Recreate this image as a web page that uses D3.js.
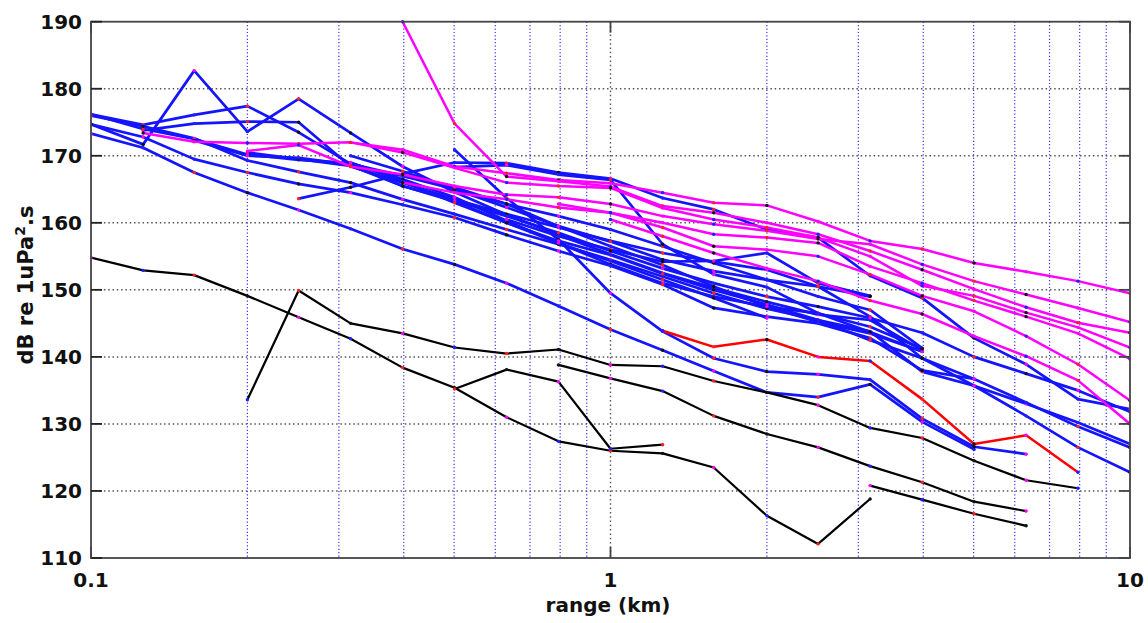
<!DOCTYPE html>
<html>
<head>
<meta charset="utf-8">
<script src="https://cdn.jsdelivr.net/npm/d3@7"></script>
<style>
  body { margin: 0; background: #fff; }
  text { font-family: "DejaVu Sans", sans-serif; font-weight: bold; fill: #111; }
</style>
</head>
<body>
<script>
const width = 1148
const height = 623
const plot = { left: 91, right: 1130, top: 21.7, bottom: 558 }

// third-octave ranges (km) at which the levels were measured
const ranges = [0.1, 0.126, 0.158, 0.2, 0.251, 0.316, 0.398, 0.501, 0.631, 0.794, 1, 1.26, 1.58, 2, 2.51, 3.16, 3.98, 5.01, 6.31, 7.94, 10]

const yTicks = [110, 120, 130, 140, 150, 160, 170, 180, 190]
const xTicks = [0.1, 1, 10]
const xMinor = [0.2, 0.3, 0.4, 0.5, 0.6, 0.7, 0.8, 0.9, 2, 3, 4, 5, 6, 7, 8, 9]

// each series: [index of first range, dB values]
const blueLines = [
  [0, [174.7, 171.7, 182.7, 173.6, 178.5, 173.4, 168.4, 164.6, 161.2, 158.2, 155.3, 152.5, 150.3, 148.2, 146.3, 145.5, 141.0]],
  [0, [176.2, 174.6, 176.1, 177.4, 173.5, 168.8, 167.0, 165.0, 162.8, 161.0, 159.0, 156.5, 154.0, 151.5, 149.0, 147.0, 141.3]],
  [1, [173.8, 174.8, 175.1, 175.0, 168.4, 166.0, 163.5, 161.3, 159.3, 157.3, 155.5, 154.2, 153.0, 150.5, 146.0, 139.8, 136.7]],
  [0, [176.2, 174.0, 172.5, 170.2, 169.4, 168.9, 166.5, 163.8, 160.3, 157.0, 153.8, 151.0, 149.0, 147.5, 145.2, 143.5, 140.8]],
  [0, [176.0, 174.4, 172.6, 169.3, 167.6, 166.0, 163.5, 161.3, 159.0, 156.8, 154.5, 152.0, 149.5, 147.2, 145.5, 143.8, 137.8, 135.7, 133.0, 130.2, 127.0]],
  [0, [174.7, 172.8, 169.5, 167.5, 165.8, 164.5, 162.7, 160.8, 158.2, 155.8, 153.6, 150.8, 147.3, 146.0, 145.0, 142.8, 138.0, 136.7, 133.2, 129.6, 126.5]],
  [0, [173.3, 171.2, 167.5, 164.5, 161.9, 159.1, 156.1, 153.8, 151.0, 147.6, 144.1, 141.0, 137.9, 134.7, 134.0, 135.9, 130.3, 126.2]],
  [7, [170.9, 163.7, 157.5, 149.5, 143.8, 139.8, 137.8, 137.4, 136.6, 130.8, 126.6, 125.5]],
  [4, [163.6, 165.3, 167.3, 169.0, 168.9, 167.5, 166.6, 163.7, 162.0, 159.0, 157.8, 152.1, 148.8, 142.8, 138.9, 133.7, 132.2]],
  [7, [168.3, 168.6, 167.2, 166.4, 156.8, 152.3, 150.4, 146.5, 143.7, 140.8]],
  [8, [160.5, 158.0, 156.0, 154.2, 154.3, 155.5, 151.0, 149.1]],
  [5, [170.0, 167.7, 165.0, 162.3, 159.5, 157.2, 154.5, 152.8, 151.5, 150.5, 149.0]],
  [3, [170.5, 169.5, 168.5, 165.5, 163.2, 160.0, 157.3, 155.2, 152.4, 150.0, 147.8, 145.5, 142.5, 139.8, 135.7, 131.2, 126.5, 122.8]],
  [2, [172.3, 170.0, 169.7, 168.7, 165.5, 163.3, 161.0, 158.5, 155.8, 153.2, 151.0, 149.0, 147.5, 145.8, 143.6, 140.0, 137.5, 135.0, 131.8]],
  [5, [169.0, 166.2, 163.0, 160.0, 157.0, 154.3, 151.5, 148.8, 145.8]],
  [6, [167.0, 165.3, 162.8, 159.5, 156.5, 153.7, 150.5, 147.5, 146.5, 144.5, 141.2]]
]

const magentaLines = [
  [1, [173.4, 172.1, 171.9, 171.8, 172.0, 170.9, 168.4, 167.4, 166.4, 165.9, 164.5, 163.0, 162.6, 160.2, 157.3, 156.1, 154.0, 152.7, 151.3, 149.5]],
  [3, [170.7, 171.6, 168.4, 167.2, 165.5, 164.2, 163.8, 162.8, 161.0, 159.8, 158.8, 157.6, 156.8, 153.8, 151.3, 149.3, 147.3, 145.2]],
  [6, [190.0, 174.8, 166.9, 166.2, 165.4, 162.5, 161.5, 160.0, 158.3, 155.8, 153.0, 150.1, 147.4, 145.1, 143.6]],
  [5, [172.0, 170.5, 168.2, 166.0, 165.5, 165.2, 162.2, 160.5, 159.3, 157.8, 155.0, 150.6, 149.1, 146.6, 144.4, 141.4]],
  [6, [166.0, 164.5, 163.5, 162.3, 161.5, 160.0, 158.3, 157.8, 157.0, 153.5, 151.0, 148.4, 146.0, 143.5, 139.7]],
  [9, [162.8, 161.5, 159.3, 156.5, 156.0, 155.0, 152.3, 149.1, 146.8, 143.1, 138.9, 133.5]],
  [10, [160.5, 158.0, 155.5, 153.2, 151.3, 148.4, 146.4, 143.1, 140.1, 136.5, 130.0]]
]

const blackLines = [
  [0, [154.8, 152.9, 152.2, 149.1, 145.9, 142.7, 138.4, 135.4, 131.0, 127.4, 126.0, 125.6, 123.5, 116.3, 112.1, 118.8]],
  [3, [133.6, 149.9, 145.0, 143.5, 141.4, 140.5, 141.1, 138.8, 138.6, 136.4, 134.7, 132.8, 129.4, 127.9, 124.5, 121.6, 120.4]],
  [7, [135.2, 138.1, 136.3, 126.3, 126.9]],
  [9, [138.8, 136.8, 134.9, 131.2, 128.5, 126.5, 123.7, 121.3, 118.4, 117.0]],
  [15, [120.8, 118.7, 116.6, 114.8]]
]

const redLines = [
  [11, [143.9, 141.5, 142.6, 140.0, 139.4, 133.7, 127.0, 128.3, 122.8]]
]

const markerColors = ["#ff2020", "#111111", "#ff00ff", "#2020ff"]

const svg = d3.select("body").append("svg").attr("width", width).attr("height", height)

const scaleX = d3.scaleLog().domain([0.1, 10]).range([plot.left, plot.right])
const scaleY = d3.scaleLinear().domain([110, 190]).range([plot.bottom, plot.top])

svg.append("clipPath").attr("id", "clip").append("rect")
  .attr("x", plot.left).attr("y", plot.top - 2)
  .attr("width", plot.right - plot.left).attr("height", plot.bottom - plot.top + 2)

// grid
const grid = svg.append("g")
yTicks.slice(1, -1).forEach(t => {
  grid.append("line")
    .attr("x1", plot.left).attr("x2", plot.right)
    .attr("y1", scaleY(t)).attr("y2", scaleY(t))
    .style("stroke", "#555").style("stroke-width", 1.5).style("stroke-dasharray", "1.5,2.8")
})
xMinor.forEach(t => {
  grid.append("line")
    .attr("x1", scaleX(t)).attr("x2", scaleX(t))
    .attr("y1", plot.top).attr("y2", plot.bottom)
    .style("stroke", "#3535ff").style("stroke-width", 1.2).style("stroke-dasharray", "1.2,2.2")
})
grid.append("line")
  .attr("x1", scaleX(1)).attr("x2", scaleX(1))
  .attr("y1", plot.top).attr("y2", plot.bottom)
  .style("stroke", "#555").style("stroke-width", 1.4).style("stroke-dasharray", "1.5,2.8")

const line = d3.line()
  .x(d => scaleX(d[0]))
  .y(d => scaleY(d[1]))

const toPoints = ([start, values]) => values.map((v, i) => [ranges[start + i], v])

const lines = svg.append("g").attr("clip-path", "url(#clip)")

function drawGroup(group, color, widthPx, markerOffset) {
  group.forEach((s, si) => {
    const pts = toPoints(s)
    lines.append("path").attr("d", line(pts))
      .style("fill", "none").style("stroke", color)
      .style("stroke-width", widthPx)
      .style("stroke-linejoin", "round").style("stroke-linecap", "round")
    pts.forEach((p, pi) => {
      lines.append("circle")
        .attr("cx", scaleX(p[0])).attr("cy", scaleY(p[1])).attr("r", 1.7)
        .style("fill", markerColors[(si + pi + markerOffset) % markerColors.length])
    })
  })
}

drawGroup(blueLines, "#1414ff", 2.7, 0)
drawGroup(magentaLines, "#ff00ff", 2.5, 1)
drawGroup(blackLines, "#000", 2.2, 2)
drawGroup(redLines, "#ff0000", 2.5, 3)

// axes box and ticks
svg.append("rect")
  .attr("x", plot.left).attr("y", plot.top)
  .attr("width", plot.right - plot.left).attr("height", plot.bottom - plot.top)
  .style("fill", "none").style("stroke", "#444").style("stroke-width", 1.8)

yTicks.forEach(t => {
  const yy = scaleY(t)
  svg.append("line").attr("x1", plot.left).attr("x2", plot.left + 11).attr("y1", yy).attr("y2", yy)
    .style("stroke", "#222").style("stroke-width", 1.8)
  svg.append("line").attr("x1", plot.right - 11).attr("x2", plot.right).attr("y1", yy).attr("y2", yy)
    .style("stroke", "#444").style("stroke-width", 1.8)
  svg.append("text").text(t)
    .attr("x", 82).attr("y", yy).attr("dy", "0.36em")
    .attr("text-anchor", "end").style("font-size", "20px")
})

xTicks.forEach(t => {
  const xx = scaleX(t)
  svg.append("line").attr("x1", xx).attr("x2", xx).attr("y1", plot.bottom).attr("y2", plot.bottom - 11)
    .style("stroke", "#444").style("stroke-width", 1.8)
  svg.append("line").attr("x1", xx).attr("x2", xx).attr("y1", plot.top).attr("y2", plot.top + 11)
    .style("stroke", "#444").style("stroke-width", 1.8)
  svg.append("text").text(t)
    .attr("x", xx).attr("y", 587)
    .attr("text-anchor", "middle").style("font-size", "20px")
})

svg.append("text").text("range (km)")
  .attr("x", 608).attr("y", 612)
  .attr("text-anchor", "middle").style("font-size", "20px")

const yLabel = svg.append("text")
  .attr("transform", "translate(33,285) rotate(-90)")
  .attr("text-anchor", "middle").style("font-size", "21px")
yLabel.append("tspan").text("dB re 1uPa")
yLabel.append("tspan").text("2").attr("dy", -8).style("font-size", "14px")
yLabel.append("tspan").text(".s").attr("dy", 8)
</script>
</body>
</html>
